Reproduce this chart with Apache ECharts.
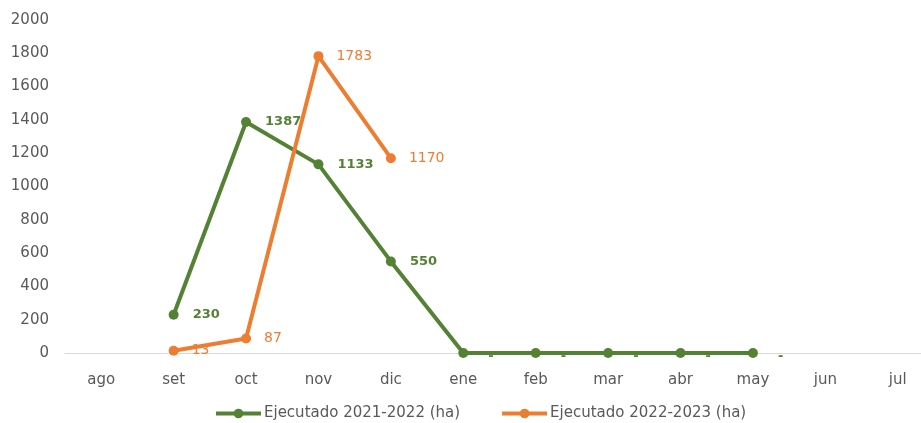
<!DOCTYPE html>
<html>
<head>
<meta charset="utf-8">
<script src="https://cdn.jsdelivr.net/npm/echarts@6/dist/echarts.min.js"></script>
<style>
  html, body { margin: 0; padding: 0; background: #fff; }
  #chart { width: 921px; height: 423px; }
</style>
</head>
<body>
<div id="chart"></div>
<script>
const months = ["ago", "set", "oct", "nov", "dic", "ene", "feb", "mar", "abr", "may", "jun", "jul"];
const ejec2122 = [null, 230, 1387, 1133, 550, 0, 0, 0, 0, 0, null, null];
const ejec2223 = [null, 13, 87, 1783, 1170, null, null, null, null, null, null, null];

const FONT = "DejaVu Sans";
const chart = echarts.init(document.getElementById("chart"));

// Excel style: zero shown as a dash, sitting just under the line
const dashZero = p => (p.value === 0 ? "{z|-}" : p.value);
const zeroRich = { z: { padding: [7, 0, 0, 6] } };

chart.setOption({
  animation: false,
  grid: {
    left: 65,
    top: 20,
    width: 869,
    height: 333,
    outerBoundsMode: "none"
  },
  legend: {
    top: 401,
    left: 209,
    itemWidth: 45,
    itemHeight: 12,
    itemGap: 40,
    textStyle: { fontFamily: FONT, fontSize: 15, color: "#595959", padding: [0, 0, 0, -2] },
    lineStyle: { width: 4 },
    data: ["Ejecutado 2021-2022 (ha)", "Ejecutado 2022-2023 (ha)"]
  },
  xAxis: {
    type: "category",
    data: months,
    boundaryGap: true,
    axisLine: { lineStyle: { color: "#d9d9d9", width: 1 } },
    axisTick: { show: false },
    axisLabel: { color: "#595959", fontFamily: FONT, fontSize: 15, margin: 20 }
  },
  yAxis: {
    type: "value",
    min: 0,
    max: 2000,
    interval: 200,
    axisLine: { show: false },
    axisTick: { show: false },
    splitLine: { show: false },
    axisLabel: { color: "#595959", fontFamily: FONT, fontSize: 15, margin: 16, formatter: v => String(v) }
  },
  series: [
    {
      name: "Ejecutado 2021-2022 (ha)",
      type: "line",
      data: ejec2122,
      color: "#548235",
      symbol: "circle",
      symbolSize: 10,
      lineStyle: { width: 4, color: "#548235" },
      itemStyle: { color: "#548235" },
      label: {
        show: true,
        position: "right",
        distance: 14,
        formatter: dashZero,
        rich: zeroRich,
        color: "#548235",
        fontWeight: "bold",
        fontFamily: FONT,
        fontSize: 13
      }
    },
    {
      name: "Ejecutado 2022-2023 (ha)",
      type: "line",
      data: ejec2223,
      color: "#ED7D31",
      symbol: "circle",
      symbolSize: 10,
      lineStyle: { width: 4, color: "#ED7D31" },
      itemStyle: { color: "#ED7D31" },
      label: {
        show: true,
        position: "right",
        distance: 13,
        formatter: dashZero,
        rich: zeroRich,
        color: "#ED7D31",
        fontFamily: FONT,
        fontSize: 14
      }
    }
  ]
});
</script>
</body>
</html>
